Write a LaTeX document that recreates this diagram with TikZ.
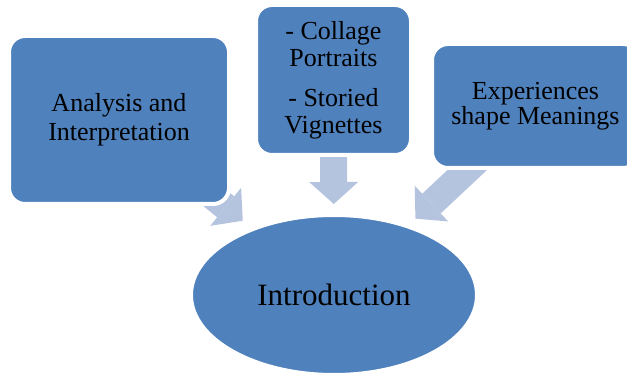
\documentclass[tikz,border=0pt]{standalone}
\usepackage{fontspec}
\setmainfont{Liberation Serif}
\usetikzlibrary{shapes.geometric,arrows.meta}
\pgfdeclarelayer{bg}
\pgfsetlayers{bg,main}
\definecolor{boxblue}{HTML}{4F81BD}
\definecolor{arrowblue}{HTML}{B4C3DE}
\tikzset{every node/.style={align=center}, >=latex,
  topic/.style={rectangle, rounded corners=16pt, fill=boxblue, draw=white, line width=4pt, inner sep=0pt, font=\fontsize{26}{29}\selectfont},
  core/.style={ellipse, fill=boxblue, draw=white, line width=4pt, inner sep=0pt, minimum width=286pt, minimum height=160pt, font=\fontsize{31}{36}\selectfont},
  flow/.style={color=arrowblue, line width=27pt, -{Triangle[length=22pt,width=49pt,line width=0pt,fill=arrowblue]}, shorten >=9pt}}

\begin{document}
\begin{tikzpicture}[x=1pt,y=-1pt]
    \useasboundingbox (0,0) rectangle (627,374);
    \node [core] (intro) at (334,295) {Introduction};
    \node [topic, minimum width=220pt, minimum height=168pt] (ana) at (119,120) {Analysis and\\Interpretation};
    \node [topic, minimum width=155pt, minimum height=150pt, font=\fontsize{26}{27}\selectfont] (vign) at (333.5,80) {- Collage\\Portraits\\[13pt]- Storied\\Vignettes};
    \node [topic, minimum width=207pt, minimum height=124pt, font=\fontsize{26}{23}\selectfont] (exp) at (535.5,106) {Experiences\\shape Meanings};

    \begin{pgfonlayer}{bg}
        \path[flow] (ana.center) edge [shorten >=11pt] (intro)
            (vign.center) edge (intro)
            (exp.center) edge (intro);
    \end{pgfonlayer}
\end{tikzpicture}
\end{document}
